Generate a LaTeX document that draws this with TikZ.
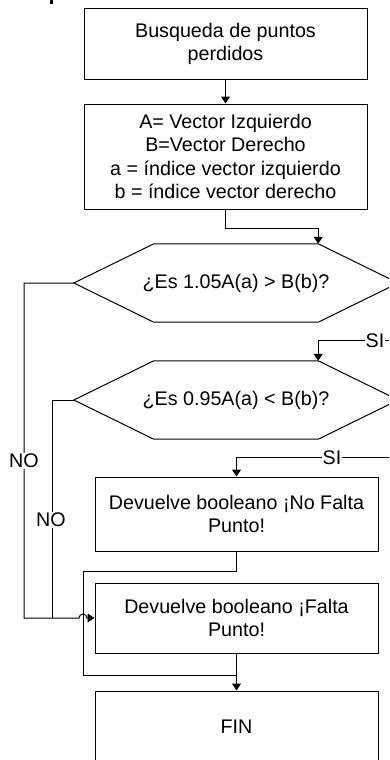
\documentclass[tikz,border=0pt]{standalone}
\usepackage{fontspec}
\setmainfont{Liberation Sans}
\usetikzlibrary{arrows.meta}
\begin{document}
\begin{tikzpicture}[x=1pt,y=-1pt,
  every node/.style={font=\fontsize{19.7}{23.5}\selectfont},
  proc/.style={draw, line width=1pt, minimum width=283pt, inner sep=0pt, align=center},
  hexcore/.style={minimum width=164pt, minimum height=78pt, inner sep=0pt},
  flow/.style={line width=1pt},
  arr/.style={flow, -{Triangle[length=7pt,width=9pt]}},
  lbl/.style={fill=white, inner sep=1pt}]

\clip (0,0) rectangle (389,760);
\fill[white] (0,0) rectangle (389,760);
\fill (50,0) rectangle (52.5,4.5);

% process boxes
\node[proc, minimum height=70pt]  (b1)  at (225.5,44)  {Busqueda de puntos\\perdidos};
\node[proc, minimum height=105pt] (b2)  at (225.5,156.5) {A= Vector Izquierdo\\B=Vector Derecho\\a = índice vector izquierdo\\b = índice vector derecho};
\node[proc, minimum height=74pt]  (b3)  at (236.5,514) {Devuelve booleano ¡No Falta\\Punto!};
\node[proc, minimum height=70pt]  (b4)  at (236.5,618) {Devuelve booleano ¡Falta\\Punto!};
\node[proc, minimum height=72pt]  (fin) at (236.5,727) {FIN};

% decision hexagons (text kept zero-width so the core keeps its size)
\node[hexcore] (h1) at (236,283) {\makebox[0pt]{¿Es 1.05A(a) > B(b)?}};
\coordinate (h1l) at ([xshift=-80pt]h1.west);
\coordinate (h1r) at ([xshift=80pt]h1.east);
\draw[flow] (h1.north west) -- (h1.north east) -- (h1r) -- (h1.south east) -- (h1.south west) -- (h1l) -- cycle;

\node[hexcore] (h2) at (236,400) {\makebox[0pt]{¿Es 0.95A(a) < B(b)?}};
\coordinate (h2l) at ([xshift=-80pt]h2.west);
\coordinate (h2r) at ([xshift=80pt]h2.east);
\draw[flow] (h2.north west) -- (h2.north east) -- (h2r) -- (h2.south east) -- (h2.south west) -- (h2l) -- cycle;

% routing points
\coordinate (no1c) at (24,618);
\coordinate (no2c) at (52,618);
\coordinate (hopA) at (79,618);
\coordinate (loopT) at (83,571);
\coordinate (loopB) at (83,675);
\coordinate (join) at (236.5,675);

% connectors
\draw[arr] (b1) -- (b2);
\draw[arr] (b2.south) -- ++(0,19) -| (h1.north east);
\draw[arr] (h1r) -- ++(20,0) |- ([yshift=20pt]h2.north east) -- (h2.north east);
\draw[arr] (h2r) -- ++(20,0) |- ([yshift=19pt]b3.north) -- (b3.north);
\draw[flow] (b3.south) |- (loopT) -- (loopB) -- (join);
\draw[arr] (b4) -- (fin);
\draw[arr] (h1l) -| (no1c) -- (hopA) arc[start angle=180, end angle=0, radius=4pt] -- (b4.west);
\draw[flow] (h2l) -| (no2c);

% branch labels
\node[lbl] (si1) at (375,341) {SI};
\node[lbl] (si2) at (332,458) {SI};
\node[lbl] (no1) at (24,461) {NO};
\node[lbl] (no2) at (51,520) {NO};
\end{tikzpicture}
\end{document}
